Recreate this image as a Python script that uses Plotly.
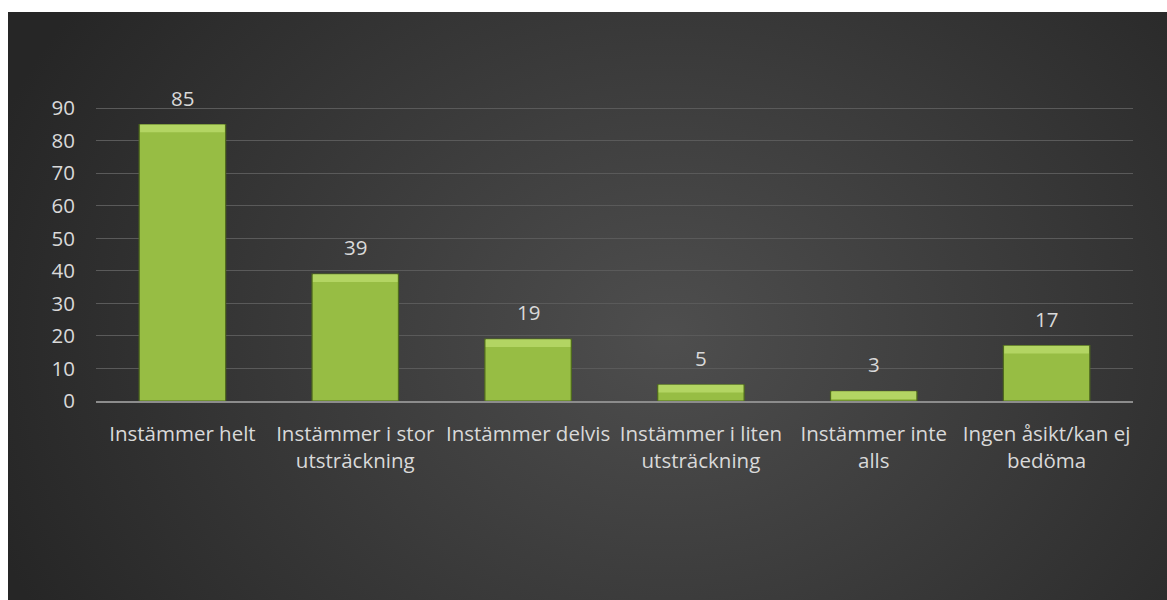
import base64
import plotly.graph_objects as go

# Survey answers and their counts
categories = [
    "Instämmer helt",
    "Instämmer i stor<br>utsträckning",
    "Instämmer delvis",
    "Instämmer i liten<br>utsträckning",
    "Instämmer inte<br>alls",
    "Ingen åsikt/kan ej<br>bedöma",
]
counts = [85, 39, 19, 5, 3, 17]
y_ticks = [0, 10, 20, 30, 40, 50, 60, 70, 80, 90]

W, H = 1167, 600
M_L, M_R, M_T, M_B = 96, 34, 105, 199
plot_w = W - M_L - M_R
plot_h = H - M_T - M_B
FONT = "Open Sans"
TXT = "#d9d9d9"
FS = 20.5

# Dark radial-gradient backdrop as an inline SVG
svg = (
    '<svg xmlns="http://www.w3.org/2000/svg" width="1159" height="588" '
    'preserveAspectRatio="none" viewBox="0 0 1159 588">'
    '<defs><radialGradient id="g" cx="0.57" cy="0.55" r="0.62" '
    'gradientTransform="translate(0.57 0.55) scale(1 1.6) translate(-0.57 -0.55)">'
    '<stop offset="0" stop-color="#4e4e4e"/>'
    '<stop offset="1" stop-color="#262626"/>'
    '</radialGradient></defs>'
    '<rect width="1159" height="588" fill="url(#g)"/></svg>'
)
bg_uri = "data:image/svg+xml;base64," + base64.b64encode(svg.encode()).decode()

# light bevel strip along the top of each bar
bevel = 2.4
bevel_base = [max(v - bevel, 0) for v in counts]
bevel_h = [v - b for v, b in zip(counts, bevel_base)]

fig = go.Figure()
fig.add_trace(go.Bar(
    x=categories, y=counts,
    marker=dict(color="#97bd44", line=dict(color="#4f6a1e", width=1.2)),
    width=0.5, hoverinfo="skip",
))
fig.add_trace(go.Bar(
    x=categories, y=bevel_h, base=bevel_base,
    marker=dict(color="#b3d563", line=dict(width=0)),
    width=0.49, hoverinfo="skip",
))

for c, v in zip(categories, counts):
    fig.add_annotation(
        x=c, y=v, text=str(v), showarrow=False, yanchor="bottom",
        yshift=11, font=dict(family=FONT, size=FS, color=TXT),
    )

fig.update_layout(
    width=W, height=H,
    margin=dict(l=M_L, r=M_R, t=M_T, b=M_B),
    paper_bgcolor="white",
    plot_bgcolor="rgba(0,0,0,0)",
    barmode="overlay",
    showlegend=False,
    font=dict(family=FONT, color=TXT, size=FS),
    images=[dict(
        source=bg_uri, xref="paper", yref="paper",
        x=(8 - M_L) / plot_w, y=(H - M_B - 12) / plot_h,
        sizex=(W - 8) / plot_w, sizey=(H - 12) / plot_h,
        xanchor="left", yanchor="top", sizing="stretch", layer="below",
    )],
    xaxis=dict(
        showgrid=False, showline=True, linecolor="#8c8c8c", linewidth=1.5,
        ticks="", ticklabelstandoff=14,
        tickfont=dict(size=FS, color=TXT, family=FONT),
    ),
    yaxis=dict(
        range=[0, 91], tickvals=y_ticks, showgrid=True,
        gridcolor="#5a5a5a", gridwidth=1, zeroline=False,
        ticks="", ticklabelstandoff=20,
        tickfont=dict(size=FS, color=TXT, family=FONT),
    ),
)

fig.write_html("out.html")
